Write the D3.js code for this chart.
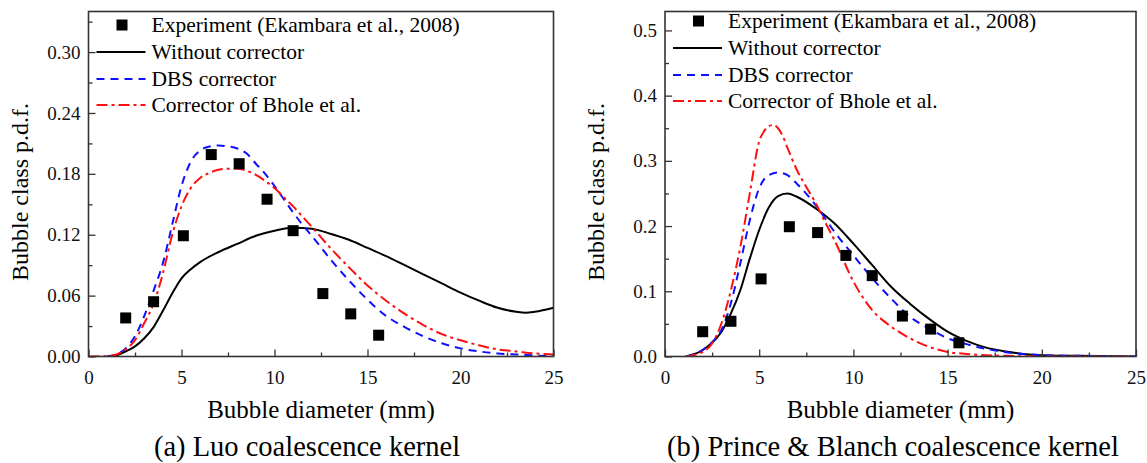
<!DOCTYPE html>
<html>
<head>
<meta charset="utf-8">
<script src="https://cdn.jsdelivr.net/npm/d3@7"></script>
<style>
  body { margin: 0; background: #fff; }
</style>
</head>
<body>
<div id="chart-container"></div>
<script>
// experiment (Ekambara et al., 2008), same points in both panels
const expX = [2.0, 3.5, 5.1, 6.6, 8.1, 9.6, 11.0, 12.6, 14.1, 15.6];
const expY = [0.038, 0.054, 0.119, 0.199, 0.190, 0.155, 0.124, 0.062, 0.042, 0.021];

// (a) Luo kernel
const luoNoneX = [1.0, 1.5, 2, 2.5, 3, 3.5, 4, 4.5, 5, 5.5, 6, 7, 8, 9, 10, 11, 12, 13, 14, 15, 16, 17, 18, 19, 20, 21, 22, 23, 23.5, 24, 25];
const luoNoneY = [0, 0.001, 0.005, 0.010, 0.018, 0.029, 0.045, 0.062, 0.077, 0.086, 0.093, 0.103, 0.111, 0.119, 0.124, 0.127, 0.126, 0.121, 0.115, 0.107, 0.099, 0.090, 0.081, 0.072, 0.063, 0.055, 0.048, 0.044, 0.043, 0.044, 0.048];
const luoDbsX = [1.0, 1.5, 2, 2.5, 3, 3.5, 4, 4.5, 5, 5.5, 6, 6.5, 7, 7.5, 8, 8.5, 9, 9.5, 10, 10.5, 11, 11.5, 12, 13, 14, 15, 16, 17, 18, 19, 20, 21, 22, 23, 24, 25];
const luoDbsY = [0, 0.002, 0.008, 0.020, 0.040, 0.065, 0.092, 0.130, 0.168, 0.192, 0.203, 0.207, 0.208, 0.207, 0.205, 0.200, 0.190, 0.180, 0.168, 0.155, 0.142, 0.130, 0.119, 0.096, 0.075, 0.056, 0.040, 0.029, 0.020, 0.013, 0.008, 0.005, 0.003, 0.002, 0.001, 0.0];
const luoBholeX = [0, 1, 1.5, 2, 2.5, 3, 3.5, 4, 4.5, 5, 5.5, 6, 6.5, 7, 7.5, 8, 8.5, 9, 9.5, 10, 10.5, 11, 11.5, 12, 13, 14, 15, 16, 17, 18, 19, 20, 21, 22, 23, 24, 25];
const luoBholeY = [0, 0.0005, 0.002, 0.007, 0.016, 0.033, 0.052, 0.082, 0.120, 0.148, 0.166, 0.176, 0.181, 0.184, 0.185, 0.185, 0.183, 0.179, 0.173, 0.166, 0.157, 0.148, 0.138, 0.128, 0.107, 0.088, 0.070, 0.055, 0.042, 0.031, 0.022, 0.016, 0.011, 0.007, 0.005, 0.003, 0.002];

// (b) Prince & Blanch kernel
const pbNoneX = [1.1, 1.5, 2, 2.5, 3, 3.5, 4, 4.5, 5, 5.5, 6, 6.5, 7, 8, 9, 10, 11, 12, 13, 14, 15, 16, 17, 18, 19, 20, 22, 25];
const pbNoneY = [0, 0.003, 0.010, 0.021, 0.038, 0.066, 0.102, 0.150, 0.194, 0.228, 0.246, 0.250, 0.245, 0.227, 0.204, 0.173, 0.140, 0.107, 0.081, 0.058, 0.038, 0.024, 0.014, 0.008, 0.004, 0.002, 0.001, 0];
const pbDbsX = [1.1, 1.5, 2, 2.5, 3, 3.5, 4, 4.5, 5, 5.5, 6, 6.5, 7, 8, 9, 10, 11, 12, 13, 14, 15, 16, 17, 18, 19, 20, 22, 25];
const pbDbsY = [0, 0.003, 0.010, 0.022, 0.041, 0.082, 0.143, 0.209, 0.258, 0.278, 0.282, 0.278, 0.265, 0.232, 0.191, 0.155, 0.120, 0.089, 0.061, 0.043, 0.028, 0.019, 0.012, 0.007, 0.004, 0.002, 0.001, 0];
const pbBholeX = [1.1, 1.5, 2, 2.5, 3, 3.5, 4, 4.5, 5, 5.25, 5.5, 5.75, 6, 6.25, 6.5, 7, 7.5, 8, 8.5, 9, 10, 11, 12, 13, 14, 15, 16, 17, 18, 20, 25];
const pbBholeY = [0, 0.002, 0.007, 0.020, 0.051, 0.102, 0.168, 0.250, 0.330, 0.345, 0.353, 0.355, 0.350, 0.338, 0.320, 0.286, 0.260, 0.235, 0.206, 0.178, 0.115, 0.071, 0.046, 0.028, 0.015, 0.007, 0.004, 0.002, 0.001, 0, 0];

const legendLabels = ["Experiment (Ekambara et al., 2008)", "Without corrector", "DBS corrector", "Corrector of Bhole et al."];
const xTicks = [0, 5, 10, 15, 20, 25];
const luoYTicks = [0, 0.06, 0.12, 0.18, 0.24, 0.30];
const pbYTicks = [0, 0.1, 0.2, 0.3, 0.4, 0.5];

const width = 1147;
const height = 463;
const serif = "'Liberation Serif', 'Times New Roman', Times, 'DejaVu Serif', serif";

const svg = d3.select("#chart-container").append("svg")
    .attr("width", width)
    .attr("height", height)
    .attr("viewBox", [0, 0, width, height])
    .style("font-family", serif);

svg.append("rect").attr("width", width).attr("height", height).attr("fill", "#fff");

const styles = [
  { stroke: "#000", dash: null },
  { stroke: "#1010ff", dash: "8,6" },
  { stroke: "#ff1010", dash: "11,4,3,4" }
];

function drawPanel(p) {
  const x = d3.scaleLinear().domain([0, 25]).range([p.left, p.right]);
  const y = d3.scaleLinear().domain([0, p.yMax]).range([356.5, 11.5]);
  const g = svg.append("g");

  // curves, clipped to the frame
  const clipId = "clip" + p.id;
  svg.append("clipPath").attr("id", clipId)
    .append("rect").attr("x", p.left).attr("y", 11.5)
    .attr("width", p.right - p.left).attr("height", 345);

  const line = d3.line()
      .curve(d3.curveMonotoneX)
      .x(d => x(d[0]))
      .y(d => y(d[1]));

  p.series.forEach((s, i) => {
    g.append("path")
        .datum(s.xs.map((v, j) => [v, s.ys[j]]))
        .attr("clip-path", `url(#${clipId})`)
        .attr("fill", "none")
        .attr("stroke", styles[i].stroke)
        .attr("stroke-width", 2)
        .attr("stroke-dasharray", styles[i].dash)
        .attr("d", line);
  });

  // experiment squares
  g.selectAll("rect.exp")
    .data(expX.map((v, j) => [v, expY[j]]))
    .enter().append("rect")
      .attr("class", "exp")
      .attr("x", d => x(d[0]) - 5.5)
      .attr("y", d => y(d[1]) - 5.5)
      .attr("width", 11)
      .attr("height", 11)
      .attr("fill", "#000");

  // frame
  g.append("rect")
      .attr("x", p.left).attr("y", 11.5)
      .attr("width", p.right - p.left).attr("height", 345)
      .attr("fill", "none")
      .attr("stroke", "#333")
      .attr("stroke-width", 1.6);

  // axes, ticks inward
  const xAxis = d3.axisBottom(x).tickValues(xTicks).tickSize(-7).tickPadding(10).tickFormat(d3.format("d"));
  const gx = g.append("g").attr("transform", "translate(0,356.5)").call(xAxis);
  gx.select(".domain").remove();
  gx.selectAll("text").attr("font-size", 19).attr("dy", "0.9em");
  g.append("g").attr("transform", "translate(0,356.5)")
    .call(d3.axisBottom(x).tickValues(d3.range(2.5, 25, 5)).tickSize(-4).tickFormat(""))
    .select(".domain").remove();

  const yAxis = d3.axisLeft(y).tickValues(p.yTicks).tickSize(-7).tickPadding(8).tickFormat(d3.format(p.fmt));
  const gy = g.append("g").attr("transform", `translate(${p.left},0)`).call(yAxis);
  gy.select(".domain").remove();
  gy.selectAll("text").attr("font-size", 19);
  g.append("g").attr("transform", `translate(${p.left},0)`)
    .call(d3.axisLeft(y).tickValues(p.yMinor).tickSize(-4).tickFormat(""))
    .select(".domain").remove();
  g.selectAll(".tick line").attr("stroke", "#333").attr("stroke-width", 1.3);
  g.selectAll("g").attr("font-family", serif);
  g.selectAll(".tick text").attr("fill", "#111");

  // titles
  g.append("text")
      .attr("x", (p.left + p.right) / 2)
      .attr("y", 418)
      .attr("text-anchor", "middle")
      .attr("font-size", 25)
      .text("Bubble diameter (mm)");
  g.append("text")
      .attr("transform", `translate(${p.left - 61},${192}) rotate(-90)`)
      .attr("text-anchor", "middle")
      .attr("font-size", 24)
      .text("Bubble class p.d.f.");
  g.append("text")
      .attr("x", p.captionX)
      .attr("y", 456)
      .attr("text-anchor", "middle")
      .attr("font-size", 28.5)
      .text(p.caption);

  // legend
  const lx = p.left + 8;
  const tx = p.left + 63;
  const rows = [p.legendTop, p.legendTop + 27, p.legendTop + 54, p.legendTop + 80];
  g.append("rect")
      .attr("x", p.left + 28).attr("y", rows[0] - 5.5)
      .attr("width", 11).attr("height", 11).attr("fill", "#000");
  styles.forEach((s, i) => {
    g.append("line")
        .attr("x1", lx).attr("x2", lx + 49)
        .attr("y1", rows[i + 1]).attr("y2", rows[i + 1])
        .attr("stroke", s.stroke)
        .attr("stroke-width", 2)
        .attr("stroke-dasharray", s.dash);
  });
  legendLabels.forEach((t, i) => {
    g.append("text")
        .attr("x", tx).attr("y", rows[i] + 7)
        .attr("font-size", 21.5)
        .text(t);
  });
}

drawPanel({
  id: "a", left: 88.5, right: 553.5, yMax: 0.34,
  yTicks: luoYTicks, yMinor: d3.range(0.03, 0.34, 0.06), fmt: ".2f",
  caption: "(a) Luo coalescence kernel", captionX: 307, legendTop: 25,
  series: [
    { xs: luoNoneX, ys: luoNoneY },
    { xs: luoDbsX, ys: luoDbsY },
    { xs: luoBholeX, ys: luoBholeY }
  ]
});

drawPanel({
  id: "b", left: 665, right: 1136, yMax: 0.529,
  yTicks: pbYTicks, yMinor: d3.range(0.05, 0.53, 0.1), fmt: ".1f",
  caption: "(b) Prince & Blanch coalescence kernel", captionX: 893, legendTop: 21,
  series: [
    { xs: pbNoneX, ys: pbNoneY },
    { xs: pbDbsX, ys: pbDbsY },
    { xs: pbBholeX, ys: pbBholeY }
  ]
});
</script>
</body>
</html>
